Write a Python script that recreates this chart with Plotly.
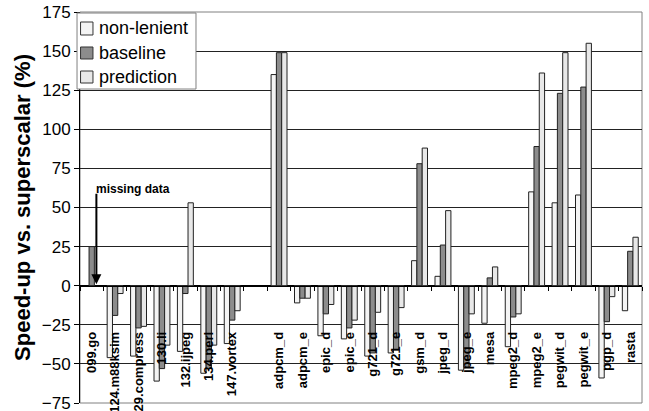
import plotly.graph_objects as go

categories = ["099.go", "124.m88ksim", "129.compress", "130.li", "132.ijpeg", "134.perl",
              "147.vortex", " ", "adpcm_d", "adpcm_e", "epic_d", "epic_e", "g721_d", "g721_e",
              "gsm_d", "jpeg_d", "jpeg_e", "mesa", "mpeg2_d", "mpeg2_e", "pegwit_d",
              "pegwit_e", "pgp_d", "rasta"]
non_lenient = [None, -46, -45, -61, -42, -56, -37, None, 135, -11, -32, -34, -45, -43,
               16, 6, -54, -24, -39, 60, 53, 58, -59, -16]
baseline = [25, -19, -27, -53, -5, -53, -22, None, 149, -8, -18, -27, -43, -41,
            78, 26, -52, 5, -20, 89, 123, 127, -23, 22]
prediction = [None, -5, -26, -38, 53, -38, -16, None, 149, -8, -12, -22, -17, -14,
              88, 48, -18, 12, -18, 136, 149, 155, -7, 31]
y_ticks = [-75, -50, -25, 0, 25, 50, 75, 100, 125, 150, 175]

series = [("non-lenient", non_lenient, "#f4f4f4"),
          ("baseline", baseline, "#8c8c8c"),
          ("prediction", prediction, "#e8e8e8")]

fig = go.Figure()
for name, vals, col in series:
    fig.add_trace(go.Bar(x=categories, y=vals, name=name, showlegend=False,
                         marker=dict(color=col, line=dict(color="#222222", width=1))))

font_family = "Liberation Sans, Arial, sans-serif"
fig.update_layout(
    width=649, height=411,
    margin=dict(l=80, r=7, t=12, b=8),
    paper_bgcolor="white", plot_bgcolor="white",
    barmode="group", bargap=0.32, bargroupgap=0,
    font=dict(family=font_family, color="black"),
    xaxis=dict(type="category", anchor="free", position=0.3, automargin=False,
               showline=True, linecolor="black", linewidth=1,
               ticks="outside", ticklen=4, tickcolor="black", tickson="boundaries",
               tickangle=-90, ticklabelstandoff=40,
               tickfont=dict(size=13, family=font_family, weight="bold"),
               showgrid=False, range=[-0.5, len(categories) - 0.5]),
    yaxis=dict(range=[-75, 175], tickvals=y_ticks, ticks="outside", ticklen=5,
               automargin=False, ticklabeloverflow="allow",
               tickcolor="black", showline=True, linecolor="black", linewidth=1,
               showgrid=True, gridcolor="#222222", gridwidth=1,
               zeroline=True, zerolinecolor="black", zerolinewidth=1,
               tickfont=dict(size=17, family=font_family),
               title=dict(text="Speed-up vs. superscalar (%)",
                          font=dict(size=22, family=font_family, weight="bold"),
                          standoff=5)),
)

# plot frame
fig.add_shape(type="rect", xref="paper", yref="paper", x0=0, y0=0, x1=1, y1=1,
              line=dict(color="#808080", width=1), layer="below")

# legend box (drawn by hand to match the compact original)
fig.add_shape(type="rect", xref="paper", yref="paper", x0=-0.0053, x1=0.2064,
              y0=0.803, y1=0.9974, fillcolor="white",
              line=dict(color="#808080", width=1), layer="above")
legend_rows = [(0.9412, 0.9744, 0.959), (0.8798, 0.9105, 0.895), (0.8184, 0.8491, 0.834)]
for (name, _, col), (sy0, sy1, ty) in zip(series, legend_rows):
    fig.add_shape(type="rect", xref="paper", yref="paper", x0=0.001, x1=0.0231,
                  y0=sy0, y1=sy1, fillcolor=col,
                  line=dict(color="#333333", width=1), layer="above")
    fig.add_annotation(x=0.0300, y=ty, xref="paper", yref="paper", text=name,
                       showarrow=False, xanchor="left", yanchor="middle",
                       font=dict(size=18, family=font_family))

# missing data annotation
fig.add_annotation(x=0.2, y=1, xref="x", yref="y", text="", showarrow=True,
                   arrowhead=2, arrowsize=1, arrowwidth=2, arrowcolor="black",
                   ax=0, ay=-92, standoff=0)
fig.add_annotation(x=0.1, y=62, xref="x", yref="y", text="<b>missing data</b>",
                   showarrow=False, xanchor="left", yanchor="middle",
                   font=dict(size=12, family=font_family))

# remove the default page margin so the figure sits at the window's corner
fig.write_html("out.html",
               config={"displayModeBar": False},
               post_script="document.body.style.margin='0';document.body.style.overflow='hidden';")
